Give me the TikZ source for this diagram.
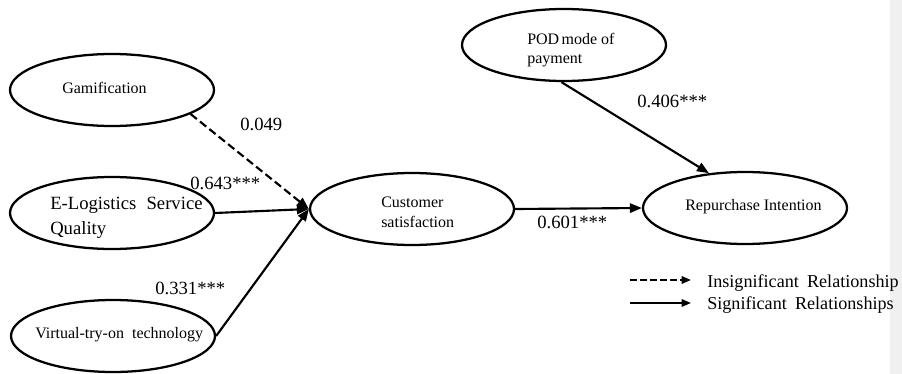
\documentclass[tikz,border=0pt]{standalone}
\usepackage{fontspec}
\setmainfont{Liberation Serif}
\usetikzlibrary{shapes.geometric,arrows.meta}

\tikzset{
  construct/.style={ellipse,draw=black,line width=1.7pt,minimum width=153pt,minimum height=54pt,inner sep=0pt},
  lbl/.style={anchor=base west,inner sep=0pt,font=\fontsize{12}{14}\selectfont},
  biglbl/.style={anchor=base west,inner sep=0pt,font=\fontsize{14}{17}\selectfont},
  coef/.style={anchor=base west,inner sep=0pt,font=\fontsize{14}{17}\selectfont},
  legtext/.style={anchor=base west,inner sep=0pt,font=\fontsize{13.6}{16}\selectfont},
  path/.style={line width=1.6pt,-{Triangle[length=9pt,width=7pt]}},
  insig/.style={path,dash pattern=on 6pt off 3pt},
  legpath/.style={line width=1.5pt,-{Triangle[length=7pt,width=5.5pt]}},
}

\begin{document}
\begin{tikzpicture}[x=0.75pt,y=-0.75pt]
  \useasboundingbox (0,0) rectangle (902,374);
  \fill[white] (0,0) rectangle (902,374);
  % side strip
  \fill[black!6] (890,0) rectangle (902,374);

  % constructs
  \node[construct] (gam) at (112,90) {};
  \node[construct] (elsq) at (112,213) {};
  \node[construct] (vto) at (113,336) {};
  \node[construct] (cs) at (412,209) {};
  \node[construct] (pod) at (564,45) {};
  \node[construct] (ri) at (745,208) {};

  % construct names
  \node[lbl] (gamtxt) at (62,94) {Gamification};
  \node[biglbl] (elsqa) at (50,209) {E-Logistics\hspace{0.55em}Service};
  \node[biglbl] (elsqb) at (50,234) {Quality};
  \node[lbl] (vtotxt) at (35,338) {Virtual-try-on\ \ technology};
  \node[lbl] (csa) at (381,207) {Customer};
  \node[lbl] (csb) at (381,227) {satisfaction};
  \node[lbl] (poda) at (527,45) {POD\hspace{0.15em}mode of};
  \node[lbl] (podb) at (527,64) {payment};
  \node[lbl] (ritxt) at (685,210) {Repurchase Intention};

  % structural paths
  \draw[insig] (gam.-17) -- (cs.west);
  \draw[path] (elsq.east) -- (cs.west);
  \draw[path] (vto.east) -- (cs.west);
  \draw[path] (cs.east) -- (ri.west);
  \draw[path] (pod.-94) -- (ri.136);

  % path coefficients
  \node[coef] (c1) at (240,131) {0.049};
  \node[coef] (c2) at (190,189) {0.643***};
  \node[coef] (c3) at (155,294) {0.331***};
  \node[coef] (c4) at (537,228) {0.601***};
  \node[coef] (c5) at (637,108) {0.406***};

  % legend
  \coordinate (l1a) at (630,280);
  \coordinate (l1b) at (691,280);
  \coordinate (l2a) at (630,303);
  \coordinate (l2b) at (691,303);
  \draw[legpath,dash pattern=on 5pt off 2.5pt] (l1a) -- (l1b);
  \draw[legpath] (l2a) -- (l2b);
  \node[legtext] (leg1) at (707,287) {Insignificant\hspace{0.45em}Relationship};
  \node[legtext] (leg2) at (707,309) {Significant\hspace{0.45em}Relationships};
\end{tikzpicture}
\end{document}
